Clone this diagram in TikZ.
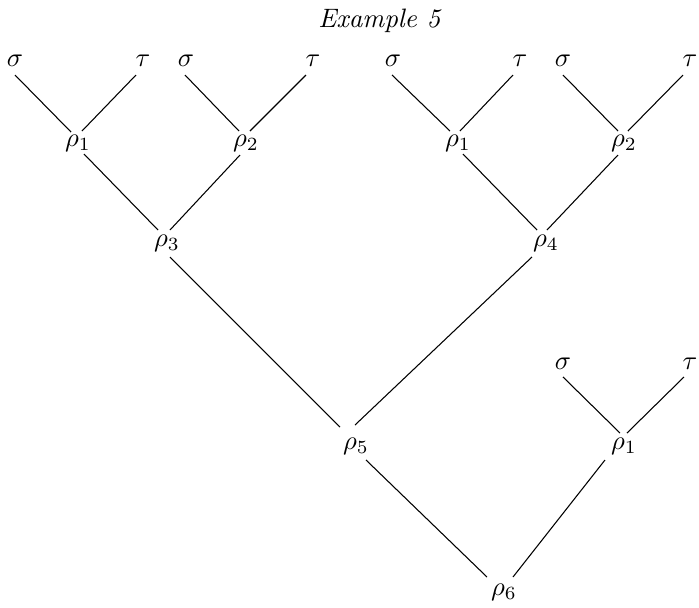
\documentclass[tikz,border=0pt]{standalone}
\usetikzlibrary{calc}
\begin{document}
\begin{tikzpicture}[x=0.375pt,y=-0.375pt,
  lbl/.style={inner sep=0pt,anchor=center},
  edge/.style={line width=0.4pt}]
\useasboundingbox (0,0) rectangle (699,608);
\node[lbl] (title) at (380,21) {\textit{Example 5}};
% leaves
\node[lbl] (s1) at (15,61) {$\sigma$};
\node[lbl] (t1) at (143,61) {$\tau$};
\node[lbl] (s2) at (186,61) {$\sigma$};
\node[lbl] (t2) at (313,61) {$\tau$};
\node[lbl] (s3) at (393,61) {$\sigma$};
\node[lbl] (t3) at (520,61) {$\tau$};
\node[lbl] (s4) at (563,61) {$\sigma$};
\node[lbl] (t4) at (690,61) {$\tau$};
\node[lbl] (s5) at (563,364) {$\sigma$};
\node[lbl] (t5) at (690,364) {$\tau$};
% inner
\node[lbl] (r1a) at (78,143) {$\rho_1$};
\node[lbl] (r2a) at (246,143) {$\rho_2$};
\node[lbl] (r1b) at (458,143) {$\rho_1$};
\node[lbl] (r2b) at (624,143) {$\rho_2$};
\node[lbl] (r3) at (167,243) {$\rho_3$};
\node[lbl] (r4) at (546,243) {$\rho_4$};
\node[lbl] (r5) at (356,446) {$\rho_5$};
\node[lbl] (r1c) at (624,446) {$\rho_1$};
\node[lbl] (r6) at (504,592) {$\rho_6$};
% edges
\draw[edge] ($(s1)+(0,14)$) -- ($(r1a)+(-7,-11)$);
\draw[edge] ($(t1)+(-7,14)$) -- ($(r1a)+(4,-12)$);
\draw[edge] ($(s2)+(-1,14)$) -- ($(r2a)+(-7,-12)$);
\draw[edge] ($(t2)+(-7,14)$) -- ($(r2a)+(4,-12)$);
\draw[edge] ($(s3)+(-1,14)$) -- ($(r1b)+(-8,-12)$);
\draw[edge] ($(t3)+(-7,14)$) -- ($(r1b)+(2,-12)$);
\draw[edge] ($(s4)+(0,14)$) -- ($(r2b)+(-6,-12)$);
\draw[edge] ($(t4)+(-7,14)$) -- ($(r2b)+(4,-12)$);
\draw[edge] ($(r1a)+(6,11)$) -- ($(r3)+(-9,-13)$);
\draw[edge] ($(r2a)+(-6,12)$) -- ($(r3)+(3,-13)$);
\draw[edge] ($(r1b)+(5,11)$) -- ($(r4)+(-9,-13)$);
\draw[edge] ($(r2b)+(-6,12)$) -- ($(r4)+(1,-13)$);
\draw[edge] ($(r3)+(3,14)$) -- ($(r5)+(-16,-19)$);
\draw[edge] ($(r4)+(-14,14)$) -- ($(r5)+(-1,-21)$);
\draw[edge] ($(s5)+(0,13)$) -- ($(r1c)+(-4,-13)$);
\draw[edge] ($(t5)+(-6,13)$) -- ($(r1c)+(3,-13)$);
\draw[edge] ($(r5)+(10,14)$) -- ($(r6)+(-17,-15)$);
\draw[edge] ($(r1c)+(-19,14)$) -- ($(r6)+(9,-15)$);
\end{tikzpicture}
\end{document}
